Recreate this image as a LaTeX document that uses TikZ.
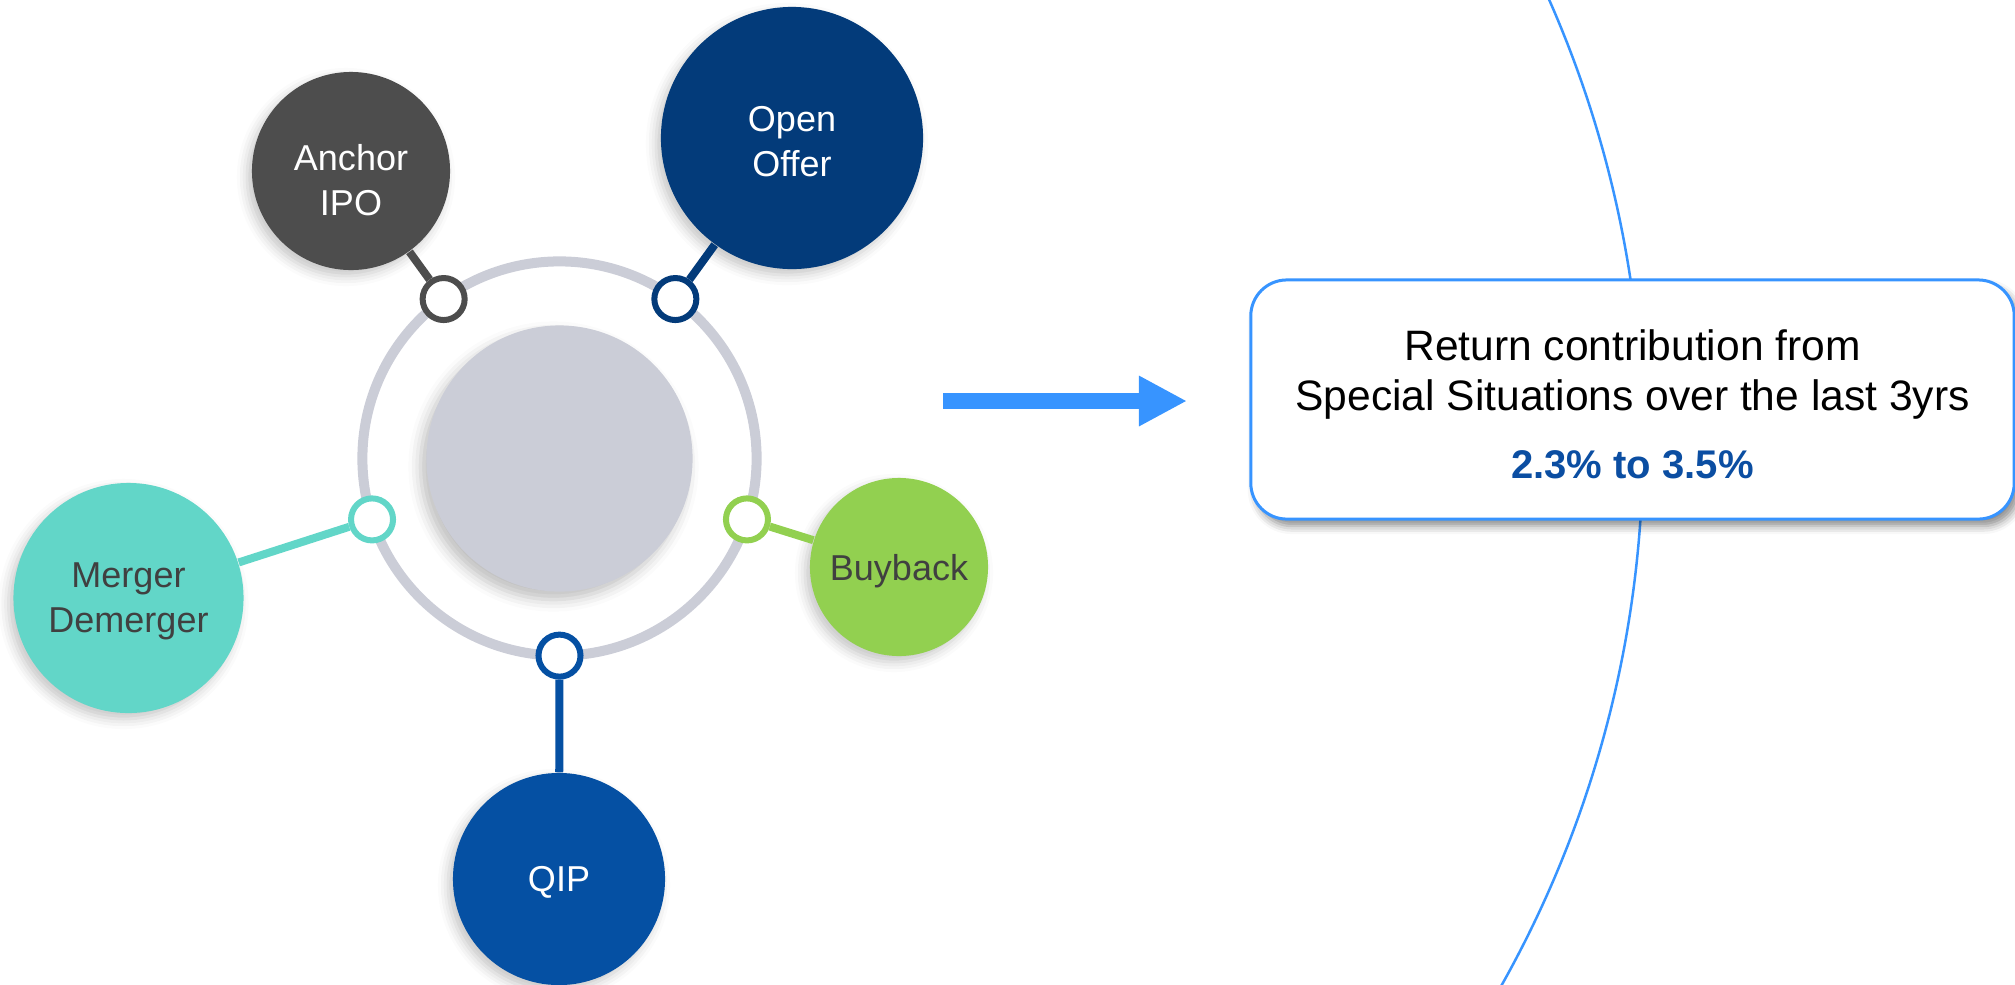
\documentclass[tikz,border=0pt]{standalone}
\usepackage{fontspec}
\setmainfont{Liberation Sans}
\usetikzlibrary{arrows.meta,shadows.blur}

\definecolor{ringgray}{HTML}{CBCDD7}
\definecolor{anchorgray}{HTML}{4D4D4D}
\definecolor{offernavy}{HTML}{033B7A}
\definecolor{mergerteal}{HTML}{62D6C8}
\definecolor{buybackgreen}{HTML}{92D050}
\definecolor{qipblue}{HTML}{0550A3}
\definecolor{lineblue}{HTML}{3794FF}
\definecolor{valueblue}{HTML}{0B4EA2}
\definecolor{labelgray}{HTML}{404040}

\tikzset{%
  >={Triangle[length=0.48cm, width=0.47cm]},
            base/.style = {circle, inner sep=0pt, align=center, text depth=0pt,
                           font=\fontsize{10.24}{12.8}\selectfont,
                           blur shadow={shadow xshift=-0.05cm, shadow yshift=-0.06cm,
                                        shadow blur radius=0.1cm, shadow opacity=22}},
  ball0/.style = {base, fill=anchorgray,   text=white},
  ball1/.style = {base, fill=offernavy,    text=white},
  ball2/.style = {base, fill=mergerteal,   text=labelgray},
  ball3/.style = {base, fill=buybackgreen, text=labelgray},
  ball4/.style = {base, fill=qipblue,      text=white},
  balltext/.style = {align=center, text=white, font=\fontsize{10.24}{12.8}\selectfont},
  ringnode/.style = {circle, draw=ringgray, line width=0.1cm, minimum size=3.94cm,
                     inner sep=0pt, outer sep=0pt},
  hubnode/.style  = {circle, fill=ringgray, minimum size=2.66cm, inner sep=0pt,
                     blur shadow={shadow xshift=-0.06cm, shadow yshift=-0.08cm,
                                  shadow blur radius=0.12cm, shadow opacity=25}},
  port/.style = {circle, fill=white, line width=0.06cm, minimum size=0.42cm, inner sep=0pt},
  stem/.style = {line width=0.08cm},
  retbox/.style = {rectangle, rounded corners=0.36cm, draw=lineblue, line width=0.03cm,
                   fill=white, minimum width=7.63cm, minimum height=2.39cm,
                   blur shadow={shadow xshift=0.05cm, shadow yshift=-0.07cm,
                                shadow blur radius=0.08cm, shadow opacity=45}},
  rettext/.style = {align=center, font=\fontsize{12.1}{14.2}\selectfont},
}

\begin{document}
\begin{tikzpicture}[x=0.01cm, y=-0.01cm]
  \useasboundingbox (0,0) rectangle (2015,984);
  \clip (0,0) rectangle (2015,984);

  % long arc behind the result box
  \draw[lineblue, line width=0.025cm] (540,445) ++(-25:1103) arc[start angle=-25, end angle=29.5, radius=1103];

  \node (ring) [ringnode] at (559.5,458.5) {};
  \node (hub)  [hubnode]  at (ring.center)  {};

  \node (ptAnchor)  [port, draw=anchorgray]   at (ring.126) {};
  \node (ptOffer)   [port, draw=offernavy]    at (ring.54)  {};
  \node (ptMerger)  [port, draw=mergerteal]   at (ring.198) {};
  \node (ptBuyback) [port, draw=buybackgreen] at (ring.342) {};
  \node (ptQIP)     [port, draw=qipblue]      at (ring.270) {};

  % the two top balls carry their text a little low
  \node (onAnchor)  [ball0, minimum size=1.98cm, label={[balltext, name=txAnchor, yshift=-0.09cm]center:{Anchor\\IPO}}] at (351,171) {};
  \node (onOffer)   [ball1, minimum size=2.62cm, label={[balltext, name=txOffer, yshift=-0.04cm]center:{Open\\Offer}}]   at (792,138) {};
  \node (onMerger)  [ball2, minimum size=2.30cm] at (128.5,598) {Merger\\Demerger};
  \node (onBuyback) [ball3, minimum size=1.78cm] at (899,567)   {Buyback};
  \node (onQIP)     [ball4, minimum size=2.12cm] at (559,879)   {QIP};

  \draw[stem, anchorgray]   (ptAnchor)  -- (onAnchor);
  \draw[stem, offernavy]    (ptOffer)   -- (onOffer);
  \draw[stem, mergerteal]   (ptMerger)  -- (onMerger);
  \draw[stem, buybackgreen] (ptBuyback) -- (onBuyback);
  \draw[stem, qipblue]      (ptQIP)     -- (onQIP);

  \coordinate (arrTail) at (943,401);
  \coordinate (arrTip)  at (1187,401);
  \draw[->, lineblue, line width=0.16cm] (arrTail) -- (arrTip);

  \node (onReturn) [retbox, label={[rettext, name=txReturn, yshift=-0.05cm]center:{Return contribution from\\Special Situations over the last 3yrs\\[0.18cm]
     {\fontsize{11.38}{14}\selectfont\bfseries\color{valueblue}2.3\% to 3.5\%}}}] at (1632.5,399.5) {};
\end{tikzpicture}
\end{document}
